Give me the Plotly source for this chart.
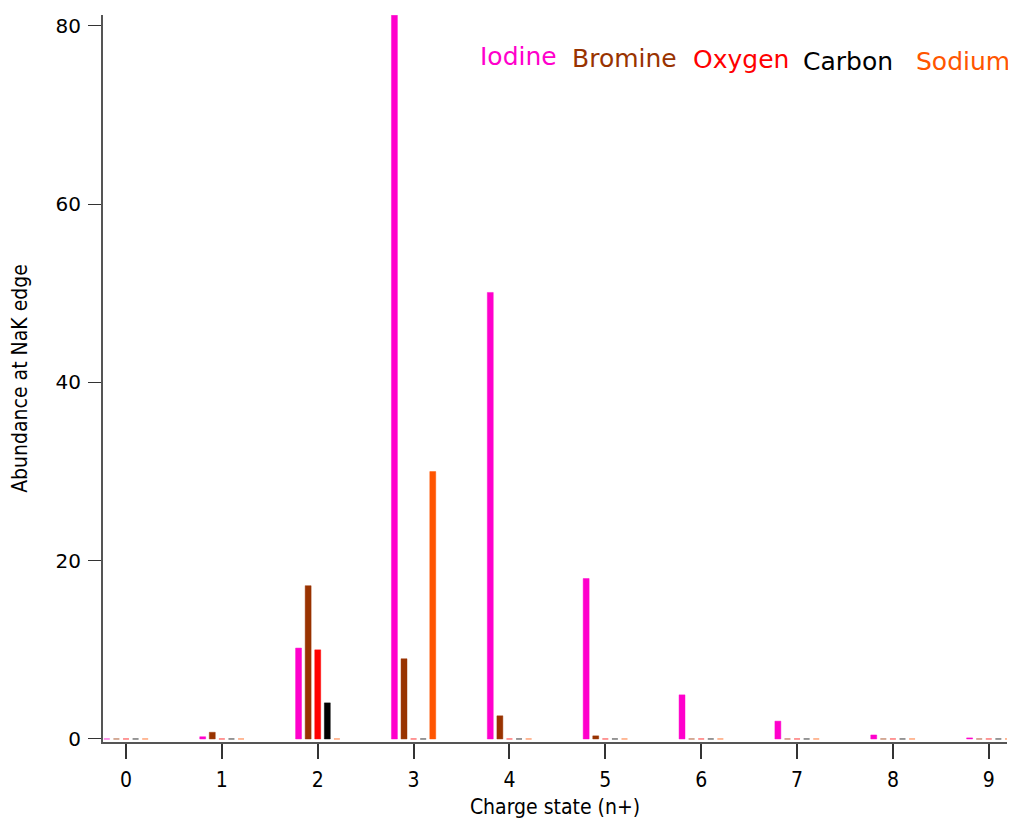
import plotly.graph_objects as go

charge = [0, 1, 2, 3, 4, 5, 6, 7, 8, 9]
iodine = [0, 0.25, 10.2, 81.2, 50.1, 18.0, 4.95, 2.0, 0.45, 0.12]
bromine = [0, 0.75, 17.2, 9.0, 2.6, 0.35, 0, 0, 0, 0]
oxygen = [0, 0, 10.0, 0, 0, 0, 0, 0, 0, 0]
carbon = [0, 0, 4.05, 0, 0, 0, 0, 0, 0, 0]
sodium = [0, 0, 0, 30.0, 0, 0, 0, 0, 0, 0]

names = ["Iodine", "Bromine", "Oxygen", "Carbon", "Sodium"]
series = [iodine, bromine, oxygen, carbon, sodium]
colors = [(255, 0, 204), (153, 51, 0), (255, 0, 0), (0, 0, 0), (255, 85, 0)]

NARROW = "DejaVu Sans Condensed, Liberation Sans Narrow, Roboto Condensed, Liberation Sans"

fig = go.Figure()
bw = 0.062
for i, (n, s, c) in enumerate(zip(names, series, colors)):
    fig.add_trace(go.Bar(
        x=charge, y=s, name=n, width=bw, offset=-0.2 + i * 0.1 - bw / 2,
        marker=dict(color="rgb(%d,%d,%d)" % c,
                    line=dict(color="rgba(%d,%d,%d,0.45)" % c, width=1)),
        showlegend=False,
    ))

# page body adds an 8px offset; compensate
OFF = 8
FW, FH = 1016 - OFF, 825 - OFF
L, R, T, B = 103 - OFF, 1007 - OFF, 15 - OFF, 742 - OFF
W, H = R - L, B - T
labels = [("Iodine", 518, 57), ("Bromine", 624, 58), ("Oxygen", 741, 60),
          ("Carbon", 848, 61), ("Sodium", 963, 61)]
for (txt, px, py), c in zip(labels, colors):
    px -= OFF
    py -= OFF
    fig.add_annotation(text=txt, xref="paper", yref="paper",
                       x=(px - L) / W, y=(B - py) / H, showarrow=False,
                       xanchor="center", yanchor="middle",
                       font=dict(family="DejaVu Sans", size=25, color="rgb(%d,%d,%d)" % c))

fig.update_layout(
    width=FW, height=FH,
    margin=dict(l=L, r=FW - R, t=T, b=FH - B, autoexpand=False),
    paper_bgcolor="white", plot_bgcolor="white",
    barmode="overlay",
    xaxis=dict(range=[-0.24, 9.19], tickmode="array", tickvals=charge,
               ticktext=[str(c) for c in charge], automargin=False,
               showline=True, linecolor="#555555", linewidth=2,
               ticks="outside", ticklen=15, tickcolor="#333333", tickwidth=1.5,
               ticklabelstandoff=3,
               showgrid=False, zeroline=False,
               tickfont=dict(family=NARROW, size=21, color="black"),
               title=dict(text="Charge state (n+)", standoff=8,
                          font=dict(family=NARROW, size=21, color="black"))),
    yaxis=dict(range=[-0.34, 81.23], tickvals=[0, 20, 40, 60, 80], automargin=False,
               showline=True, linecolor="#555555", linewidth=2,
               ticks="outside", ticklen=13, tickcolor="#333333", tickwidth=1,
               ticklabelstandoff=3,
               showgrid=False, zeroline=False,
               tickfont=dict(family="DejaVu Sans", size=20, color="black"),
               title=dict(text="Abundance at NaK edge", standoff=22,
                          font=dict(family=NARROW, size=21, color="black"))),
)

fig.write_html("out.html")
